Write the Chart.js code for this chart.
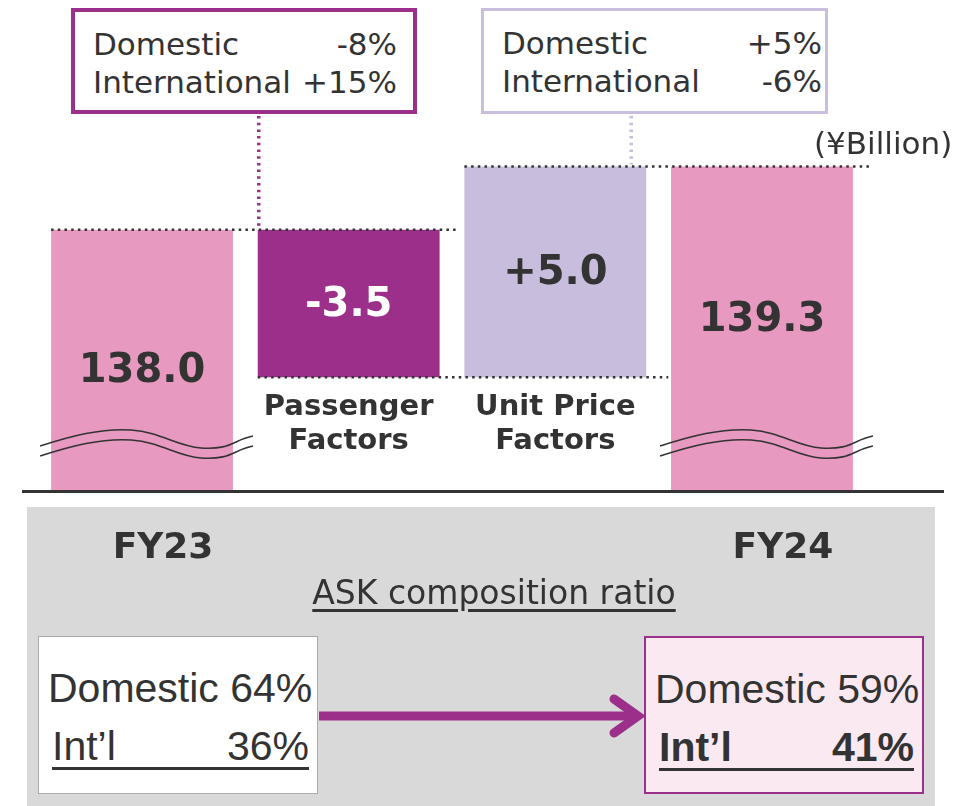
<!DOCTYPE html>
<html>
<head>
<meta charset="utf-8">
<script src="https://cdn.jsdelivr.net/npm/chart.js@4/dist/chart.umd.min.js"></script>
<style>
  html, body { margin: 0; padding: 0; background: #fff; }
  body { width: 966px; height: 806px; position: relative; overflow: hidden; font-family: 'DejaVu Sans', sans-serif; color: #333; }
  #panel { position: absolute; left: 27px; top: 507px; width: 908px; height: 299px; background: #d9d9d9; }
  #wrap { position: absolute; left: 0; top: 0; width: 966px; height: 806px; }
  .note { position: absolute; top: 8px; height: 106px; box-sizing: border-box; background: #fff; font-size: 31px; line-height: 38px; padding: 13px 16px 0 18px; }
  .note div { display: flex; justify-content: space-between; }
  #noteA { left: 71px; width: 346px; border: 4px solid #9b2f8a; }
  #noteB { left: 481px; width: 347px; border: 3px solid #c9bedd; padding-right: 3px; }
  #unit { position: absolute; left: 814px; top: 125px; font-size: 31px; }
  #ask { position: absolute; left: 0; width: 966px; top: 573px; text-align: center; font-size: 33px; text-decoration: underline; text-underline-offset: 5px; padding-left: 22px; box-sizing: border-box; }
  .mix { position: absolute; top: 636px; width: 280px; height: 158px; box-sizing: border-box; font-family: 'Liberation Sans', sans-serif; font-size: 41px; }
  .mix .dom { position: absolute; left: 9px; top: 28px; }
  .mix .intl { position: absolute; left: 13px; right: 8px; top: 89px; display: flex; justify-content: space-between; border-bottom: 3px solid #333; line-height: 41px; }
  #mixA { left: 38px; background: #fff; border: 1px solid #aaa; }
  #mixB { left: 644px; background: #fbe9f2; border: 2px solid #9b2f8a; }
  #mixB .intl { font-weight: bold; }
  #arrow { position: absolute; left: 0; top: 0; }
</style>
</head>
<body>
<div id="panel"></div>
<div id="wrap"><canvas id="chart" width="966" height="806"></canvas></div>
<div class="note" id="noteA"><div><span>Domestic</span><span>-8%</span></div><div><span>International</span><span>+15%</span></div></div>
<div class="note" id="noteB"><div><span>Domestic</span><span>+5%</span></div><div><span>International</span><span>-6%</span></div></div>
<div id="unit">(¥Billion)</div>
<div id="ask">ASK composition ratio</div>
<div class="mix" id="mixA"><div class="dom">Domestic 64%</div><div class="intl"><span>Int’l</span><span>36%</span></div></div>
<div class="mix" id="mixB"><div class="dom">Domestic 59%</div><div class="intl"><span>Int’l</span><span>41%</span></div></div>
<svg id="arrow" width="966" height="806">
  <line x1="319" y1="716" x2="636" y2="716" stroke="#9b2f8a" stroke-width="9"/>
  <polyline points="614,699 638,716 614,733" fill="none" stroke="#9b2f8a" stroke-width="9" stroke-linecap="round" stroke-linejoin="miter"/>
</svg>
<script>
// values in ¥ billion (axis is broken below the totals)
const categories = ['FY23', 'Passenger Factors', 'Unit Price Factors', 'FY24'];
const barStart = [131.82, 138.0, 134.5, 131.82];
const barEnd = [138.0, 134.5, 139.5, 139.5];
const valueLabels = ['138.0', '-3.5', '+5.0', '139.3'];
const isTotal = [true, false, false, true];

const PINK = '#e899c0';
const PURPLE = '#9b2f8a';
const LAVENDER = '#c8bddc';
const DARK = '#333333';

const barColors = [PINK, PURPLE, LAVENDER, PINK];
const labelColors = [DARK, '#ffffff', DARK, DARK];

const dotted = (ctx, x1, y1, x2, y2, color, width = 2.5) => {
  ctx.save();
  ctx.strokeStyle = color;
  ctx.lineWidth = width;
  ctx.setLineDash([2.5, 4.2]);
  ctx.beginPath();
  ctx.moveTo(x1, y1);
  ctx.lineTo(x2, y2);
  ctx.stroke();
  ctx.restore();
};

const breakMark = (ctx, left, right, y) => {
  ctx.save();
  ctx.strokeStyle = DARK;
  ctx.lineWidth = 1.6;
  [0, 10].forEach((dy) => {
    const y0 = y + dy;
    ctx.beginPath();
    ctx.moveTo(left - 11, y0 + 6);
    ctx.bezierCurveTo(left + 20, y0 - 4, left + 50, y0 - 12, left + 80, y0 - 10);
    ctx.bezierCurveTo(left + 110, y0 - 8, left + 125, y0 + 6, left + 150, y0 + 8);
    ctx.bezierCurveTo(left + 180, y0 + 10, right, y0, right + 20, y0 - 4);
    ctx.stroke();
  });
  ctx.restore();
};

const decorations = {
  id: 'decorations',
  afterDatasetsDraw(chart) {
    const { ctx } = chart;
    const meta = chart.getDatasetMeta(0);
    const y = chart.scales.y;
    const bars = meta.data.map((b) => ({ x: b.x, left: b.x - b.width / 2, right: b.x + b.width / 2, top: Math.min(b.y, b.base), bottom: Math.max(b.y, b.base) }));

    // connectors between steps
    dotted(ctx, bars[0].left, y.getPixelForValue(barEnd[0]), bars[1].right + 20, y.getPixelForValue(barEnd[0]), DARK);
    dotted(ctx, bars[1].left, y.getPixelForValue(barEnd[1]), bars[2].right + 22, y.getPixelForValue(barEnd[1]), DARK);
    dotted(ctx, bars[2].left, y.getPixelForValue(barEnd[2]), bars[3].right + 20, y.getPixelForValue(barEnd[2]), DARK);

    // leader lines to the note boxes
    dotted(ctx, bars[1].left + 1, 116, bars[1].left + 1, bars[1].top, PURPLE, 3.5);
    dotted(ctx, bars[2].right - 15, 116, bars[2].right - 15, bars[2].top - 2, LAVENDER, 3.5);

    // axis break marks on the totals
    breakMark(ctx, bars[0].left, bars[0].right, 440);
    breakMark(ctx, bars[3].left, bars[3].right, 440);

    // baseline
    ctx.save();
    ctx.strokeStyle = DARK;
    ctx.lineWidth = 3;
    ctx.beginPath();
    ctx.moveTo(22, chart.chartArea.bottom + 1.5);
    ctx.lineTo(944, chart.chartArea.bottom + 1.5);
    ctx.stroke();
    ctx.restore();

    // value labels
    ctx.save();
    ctx.textAlign = 'center';
    ctx.textBaseline = 'middle';
    ctx.font = 'bold 40px "DejaVu Sans"';
    bars.forEach((b, i) => {
      ctx.fillStyle = labelColors[i];
      const ly = isTotal[i] ? (i === 0 ? b.top + 142 : b.top + 154) : (b.top + b.bottom) / 2 + 2;
      ctx.fillText(valueLabels[i], b.x, ly);
    });

    // category labels
    ctx.fillStyle = DARK;
    ctx.font = 'bold 29px "DejaVu Sans"';
    [1, 2].forEach((i) => {
      const words = categories[i].split(' ');
      const lines = [words.slice(0, -1).join(' '), words[words.length - 1]];
      ctx.fillText(lines[0], bars[i].x, 407);
      ctx.fillText(lines[1], bars[i].x, 441);
    });
    ctx.font = 'bold 36px "DejaVu Sans"';
    [0, 3].forEach((i) => ctx.fillText(categories[i], bars[i].x + 21, 549));
    ctx.restore();
  },
};

new Chart(document.getElementById('chart'), {
  type: 'bar',
  data: {
    labels: categories,
    datasets: [{
      data: barStart.map((s, i) => [s, barEnd[i]]),
      backgroundColor: barColors,
      borderWidth: 0,
      borderSkipped: false,
      categoryPercentage: 1,
      barPercentage: 0.88,
    }],
  },
  options: {
    responsive: false,
    animation: false,
    events: [],
    layout: { padding: { left: 38.7, right: 100.7, top: 60, bottom: 316 } },
    scales: {
      x: { display: false },
      y: { display: false, min: 131.82, max: 142.03 },
    },
    plugins: { legend: { display: false }, tooltip: { enabled: false } },
  },
  plugins: [decorations],
});
</script>
</body>
</html>
